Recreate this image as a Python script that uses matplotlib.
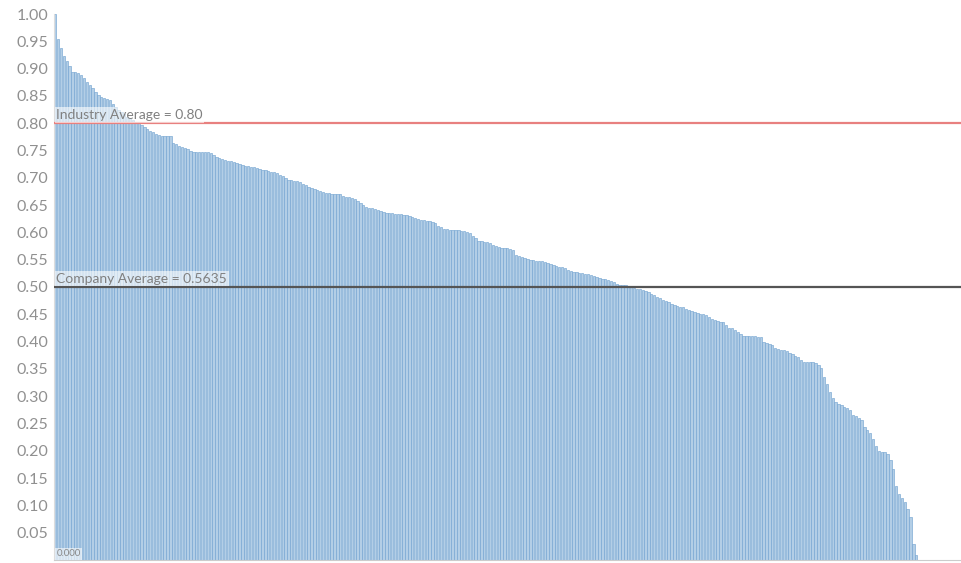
import matplotlib.pyplot as plt
import numpy as np

# Per-employee scores, sorted descending
scores = [
    1.000, 0.955, 0.937, 0.923, 0.914, 0.905, 0.894, 0.893, 0.892, 0.888,
    0.883, 0.875, 0.870, 0.864, 0.857, 0.852, 0.848, 0.846, 0.845, 0.843,
    0.836, 0.830, 0.824, 0.820, 0.816, 0.812, 0.809, 0.806, 0.803, 0.800,
    0.797, 0.793, 0.789, 0.785, 0.783, 0.781, 0.779, 0.777, 0.777, 0.776,
    0.776, 0.763, 0.761, 0.759, 0.757, 0.755, 0.753, 0.750, 0.748, 0.748,
    0.748, 0.747, 0.747, 0.747, 0.745, 0.742, 0.739, 0.737, 0.734, 0.733,
    0.731, 0.730, 0.729, 0.727, 0.725, 0.723, 0.722, 0.721, 0.720, 0.720,
    0.718, 0.717, 0.715, 0.714, 0.712, 0.711, 0.710, 0.709, 0.706, 0.703,
    0.700, 0.696, 0.696, 0.695, 0.695, 0.693, 0.689, 0.687, 0.684, 0.681,
    0.679, 0.677, 0.675, 0.674, 0.673, 0.672, 0.671, 0.671, 0.670, 0.670,
    0.667, 0.665, 0.664, 0.663, 0.661, 0.657, 0.653, 0.650, 0.647, 0.645,
    0.644, 0.642, 0.641, 0.639, 0.637, 0.636, 0.635, 0.635, 0.634, 0.633,
    0.633, 0.632, 0.631, 0.630, 0.629, 0.627, 0.625, 0.623, 0.622, 0.621,
    0.620, 0.619, 0.617, 0.612, 0.609, 0.606, 0.606, 0.605, 0.605, 0.604,
    0.604, 0.603, 0.602, 0.600, 0.598, 0.594, 0.590, 0.585, 0.584, 0.583,
    0.582, 0.580, 0.577, 0.575, 0.574, 0.572, 0.571, 0.571, 0.570, 0.568,
    0.559, 0.557, 0.555, 0.553, 0.551, 0.550, 0.549, 0.548, 0.548, 0.547,
    0.546, 0.544, 0.542, 0.541, 0.539, 0.537, 0.536, 0.534, 0.532, 0.530,
    0.528, 0.527, 0.526, 0.525, 0.524, 0.523, 0.522, 0.520, 0.518, 0.516,
    0.515, 0.514, 0.513, 0.511, 0.509, 0.506, 0.504, 0.503, 0.503, 0.502,
    0.500, 0.498, 0.497, 0.496, 0.494, 0.492, 0.490, 0.487, 0.485, 0.482,
    0.479, 0.477, 0.475, 0.472, 0.469, 0.467, 0.466, 0.464, 0.463, 0.460,
    0.458, 0.456, 0.454, 0.453, 0.451, 0.450, 0.448, 0.445, 0.442, 0.439,
    0.437, 0.436, 0.436, 0.430, 0.425, 0.424, 0.422, 0.418, 0.414, 0.411,
    0.411, 0.410, 0.410, 0.410, 0.409, 0.409, 0.400, 0.397, 0.395, 0.393,
    0.389, 0.387, 0.385, 0.384, 0.382, 0.380, 0.377, 0.374, 0.371, 0.367,
    0.363, 0.363, 0.362, 0.362, 0.361, 0.357, 0.352, 0.336, 0.322, 0.307,
    0.296, 0.290, 0.285, 0.283, 0.281, 0.279, 0.275, 0.266, 0.263, 0.260,
    0.257, 0.244, 0.239, 0.232, 0.221, 0.208, 0.200, 0.198, 0.197, 0.195,
    0.183, 0.166, 0.136, 0.121, 0.113, 0.106, 0.094, 0.079, 0.030, 0.010,
]

industry_avg = 0.80
company_avg_line = 0.50
company_avg_label = 'Company Average = 0.5635'
industry_avg_label = 'Industry Average = 0.80'
y_ticks = [0.05, 0.10, 0.15, 0.20, 0.25, 0.30, 0.35, 0.40, 0.45, 0.50,
           0.55, 0.60, 0.65, 0.70, 0.75, 0.80, 0.85, 0.90, 0.95, 1.00]

plt.rcParams['font.family'] = ['Lato', 'DejaVu Sans']

fig = plt.figure(figsize=(9.61, 5.63), dpi=100)
ax = fig.add_axes([54 / 961, 3 / 563, 907 / 961, 546 / 563])

x = np.arange(len(scores))
ax.bar(x, scores, width=0.8, color='#b3cee6', edgecolor='#75a5d2',
       linewidth=0.45, align='edge')

# Reference lines
ax.axhline(industry_avg, color='#e8807f', linewidth=1.6, zorder=3)
ax.axhline(company_avg_line, color='#555555', linewidth=1.6, zorder=3)

label_box = dict(facecolor='white', alpha=0.6, edgecolor='none', pad=1.2)
ax.text(0.8, industry_avg + 0.004, industry_avg_label, fontsize=10,
        color='#808080', va='bottom', ha='left', bbox=label_box, zorder=4)
ax.text(0.8, company_avg_line + 0.004, company_avg_label, fontsize=10,
        color='#808080', va='bottom', ha='left', bbox=label_box, zorder=4)
ax.text(0.8, 0.003, '0.000', fontsize=7, color='#888888', va='bottom',
        ha='left', bbox=label_box, zorder=4)

ax.set_xlim(0, 907 / 2.88)
ax.set_ylim(0, 1.0)
ax.set_yticks(y_ticks)
ax.set_yticklabels([f'{t:.2f}' for t in y_ticks])
ax.tick_params(axis='y', length=0, labelsize=11.5, labelcolor='#909090', pad=4)
ax.set_xticks([])

for side in ['top', 'right']:
    ax.spines[side].set_visible(False)
ax.spines['left'].set_color('#dddddd')
ax.spines['bottom'].set_color('#cccccc')

fig.savefig('out.png', dpi=100, facecolor='white')
